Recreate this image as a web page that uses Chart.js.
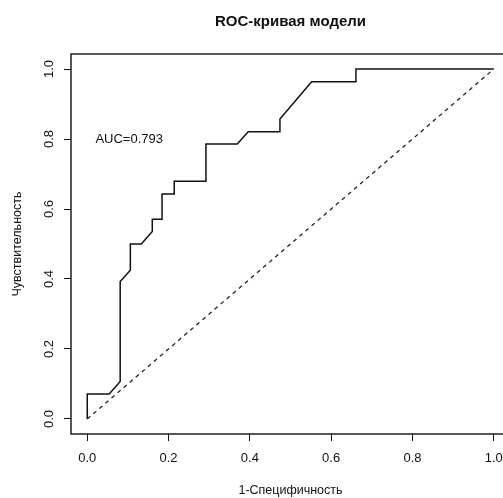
<!DOCTYPE html>
<html>
<head>
<meta charset="utf-8">
<script src="https://cdn.jsdelivr.net/npm/chart.js@4.4.1/dist/chart.umd.min.js"></script>
<style>
  html, body { margin: 0; padding: 0; background: #fff; overflow: hidden; }
  #wrap { width: 520px; height: 498px; }
</style>
</head>
<body>
<div id="wrap"><canvas id="roc" width="520" height="498"></canvas></div>
<script>
// ROC curve points (false positive rate, true positive rate)
const fpr = [0, 0, 0.054, 0.081, 0.081, 0.106, 0.106, 0.133, 0.160, 0.160, 0.184, 0.184,
             0.214, 0.214, 0.292, 0.292, 0.369, 0.396, 0.474, 0.474, 0.552, 0.661, 0.661, 1.0];
const tpr = [0, 0.071, 0.071, 0.107, 0.393, 0.425, 0.500, 0.500, 0.536, 0.571, 0.571, 0.643,
             0.643, 0.679, 0.679, 0.786, 0.786, 0.821, 0.821, 0.857, 0.964, 0.964, 1.0, 1.0];
// chance line
const refX = [0, 1];
const refY = [0, 1];

const tickValues = [0, 0.2, 0.4, 0.6, 0.8, 1.0];
const tickLabels = ['0.0', '0.2', '0.4', '0.6', '0.8', '1.0'];

const titleText = 'ROC-кривая модели';
const xTitle = '1-Специфичность';
const yTitle = 'Чувствительность';
const aucText = 'AUC=0.793';

const FONT = '"Liberation Sans", Arial, Helvetica, sans-serif';

const toPoints = (xs, ys) => xs.map((x, i) => ({ x: x, y: ys[i] }));

// R-style box, rotated y labels and text
const rStyle = {
  id: 'rStyle',
  afterDraw(chart) {
    const ctx = chart.ctx;
    const a = chart.chartArea;
    const xs = chart.scales.x, ys = chart.scales.y;
    ctx.save();
    ctx.strokeStyle = '#111';
    ctx.lineWidth = 1.4;
    ctx.strokeRect(a.left, a.top, a.right - a.left, a.bottom - a.top);

    ctx.fillStyle = '#111';
    ctx.textAlign = 'center';
    ctx.textBaseline = 'middle';

    // y tick labels, rotated like R
    ctx.font = '13px ' + FONT;
    tickValues.forEach((v, i) => {
      ctx.save();
      ctx.translate(49, ys.getPixelForValue(v));
      ctx.rotate(-Math.PI / 2);
      ctx.fillText(tickLabels[i], 0, 0);
      ctx.restore();
    });

    // title
    ctx.font = 'bold 15px ' + FONT;
    ctx.fillText(titleText, (a.left + a.right) / 2, 22);

    // axis titles
    ctx.font = '12.5px ' + FONT;
    ctx.fillText(xTitle, (a.left + a.right) / 2, 491);
    ctx.save();
    ctx.translate(18, (a.top + a.bottom) / 2);
    ctx.rotate(-Math.PI / 2);
    ctx.fillText(yTitle, 0, 0);
    ctx.restore();

    // AUC annotation
    ctx.font = '13px ' + FONT;
    ctx.textAlign = 'left';
    ctx.fillText(aucText, xs.getPixelForValue(0.02), ys.getPixelForValue(0.8));
    ctx.restore();
  }
};

const ctx = document.getElementById('roc').getContext('2d');
new Chart(ctx, {
  type: 'scatter',
  data: {
    datasets: [
      {
        label: 'ROC',
        data: toPoints(fpr, tpr),
        showLine: true,
        borderColor: '#111',
        borderWidth: 1.5,
        pointRadius: 0,
        fill: false,
        tension: 0
      },
      {
        label: 'chance',
        data: toPoints(refX, refY),
        showLine: true,
        borderColor: '#222',
        borderWidth: 1.3,
        borderDash: [4, 4],
        pointRadius: 0,
        fill: false
      }
    ]
  },
  options: {
    responsive: false,
    animation: false,
    devicePixelRatio: 1,
    layout: { padding: { left: 0, top: 54, right: 10, bottom: 0 } },
    plugins: {
      legend: { display: false },
      title: { display: false },
      tooltip: { enabled: false }
    },
    scales: {
      x: {
        type: 'linear',
        min: -0.04,
        max: 1.04,
        afterBuildTicks: (s) => { s.ticks = tickValues.map(v => ({ value: v })); },
        afterFit: (s) => { s.height = 64; },
        ticks: {
          callback: (v) => tickLabels[tickValues.indexOf(v)],
          color: '#111',
          font: { family: FONT, size: 13 },
          padding: 10,
          maxRotation: 0
        },
        grid: { drawOnChartArea: false, drawTicks: true, tickLength: 7, color: '#111', lineWidth: 1 },
        border: { display: false }
      },
      y: {
        type: 'linear',
        min: -0.043,
        max: 1.043,
        afterBuildTicks: (s) => { s.ticks = tickValues.map(v => ({ value: v })); },
        afterFit: (s) => { s.width = 71; },
        ticks: { display: false },
        grid: { drawOnChartArea: false, drawTicks: true, tickLength: 7, color: '#111', lineWidth: 1 },
        border: { display: false }
      }
    }
  },
  plugins: [rStyle]
});
</script>
</body>
</html>
